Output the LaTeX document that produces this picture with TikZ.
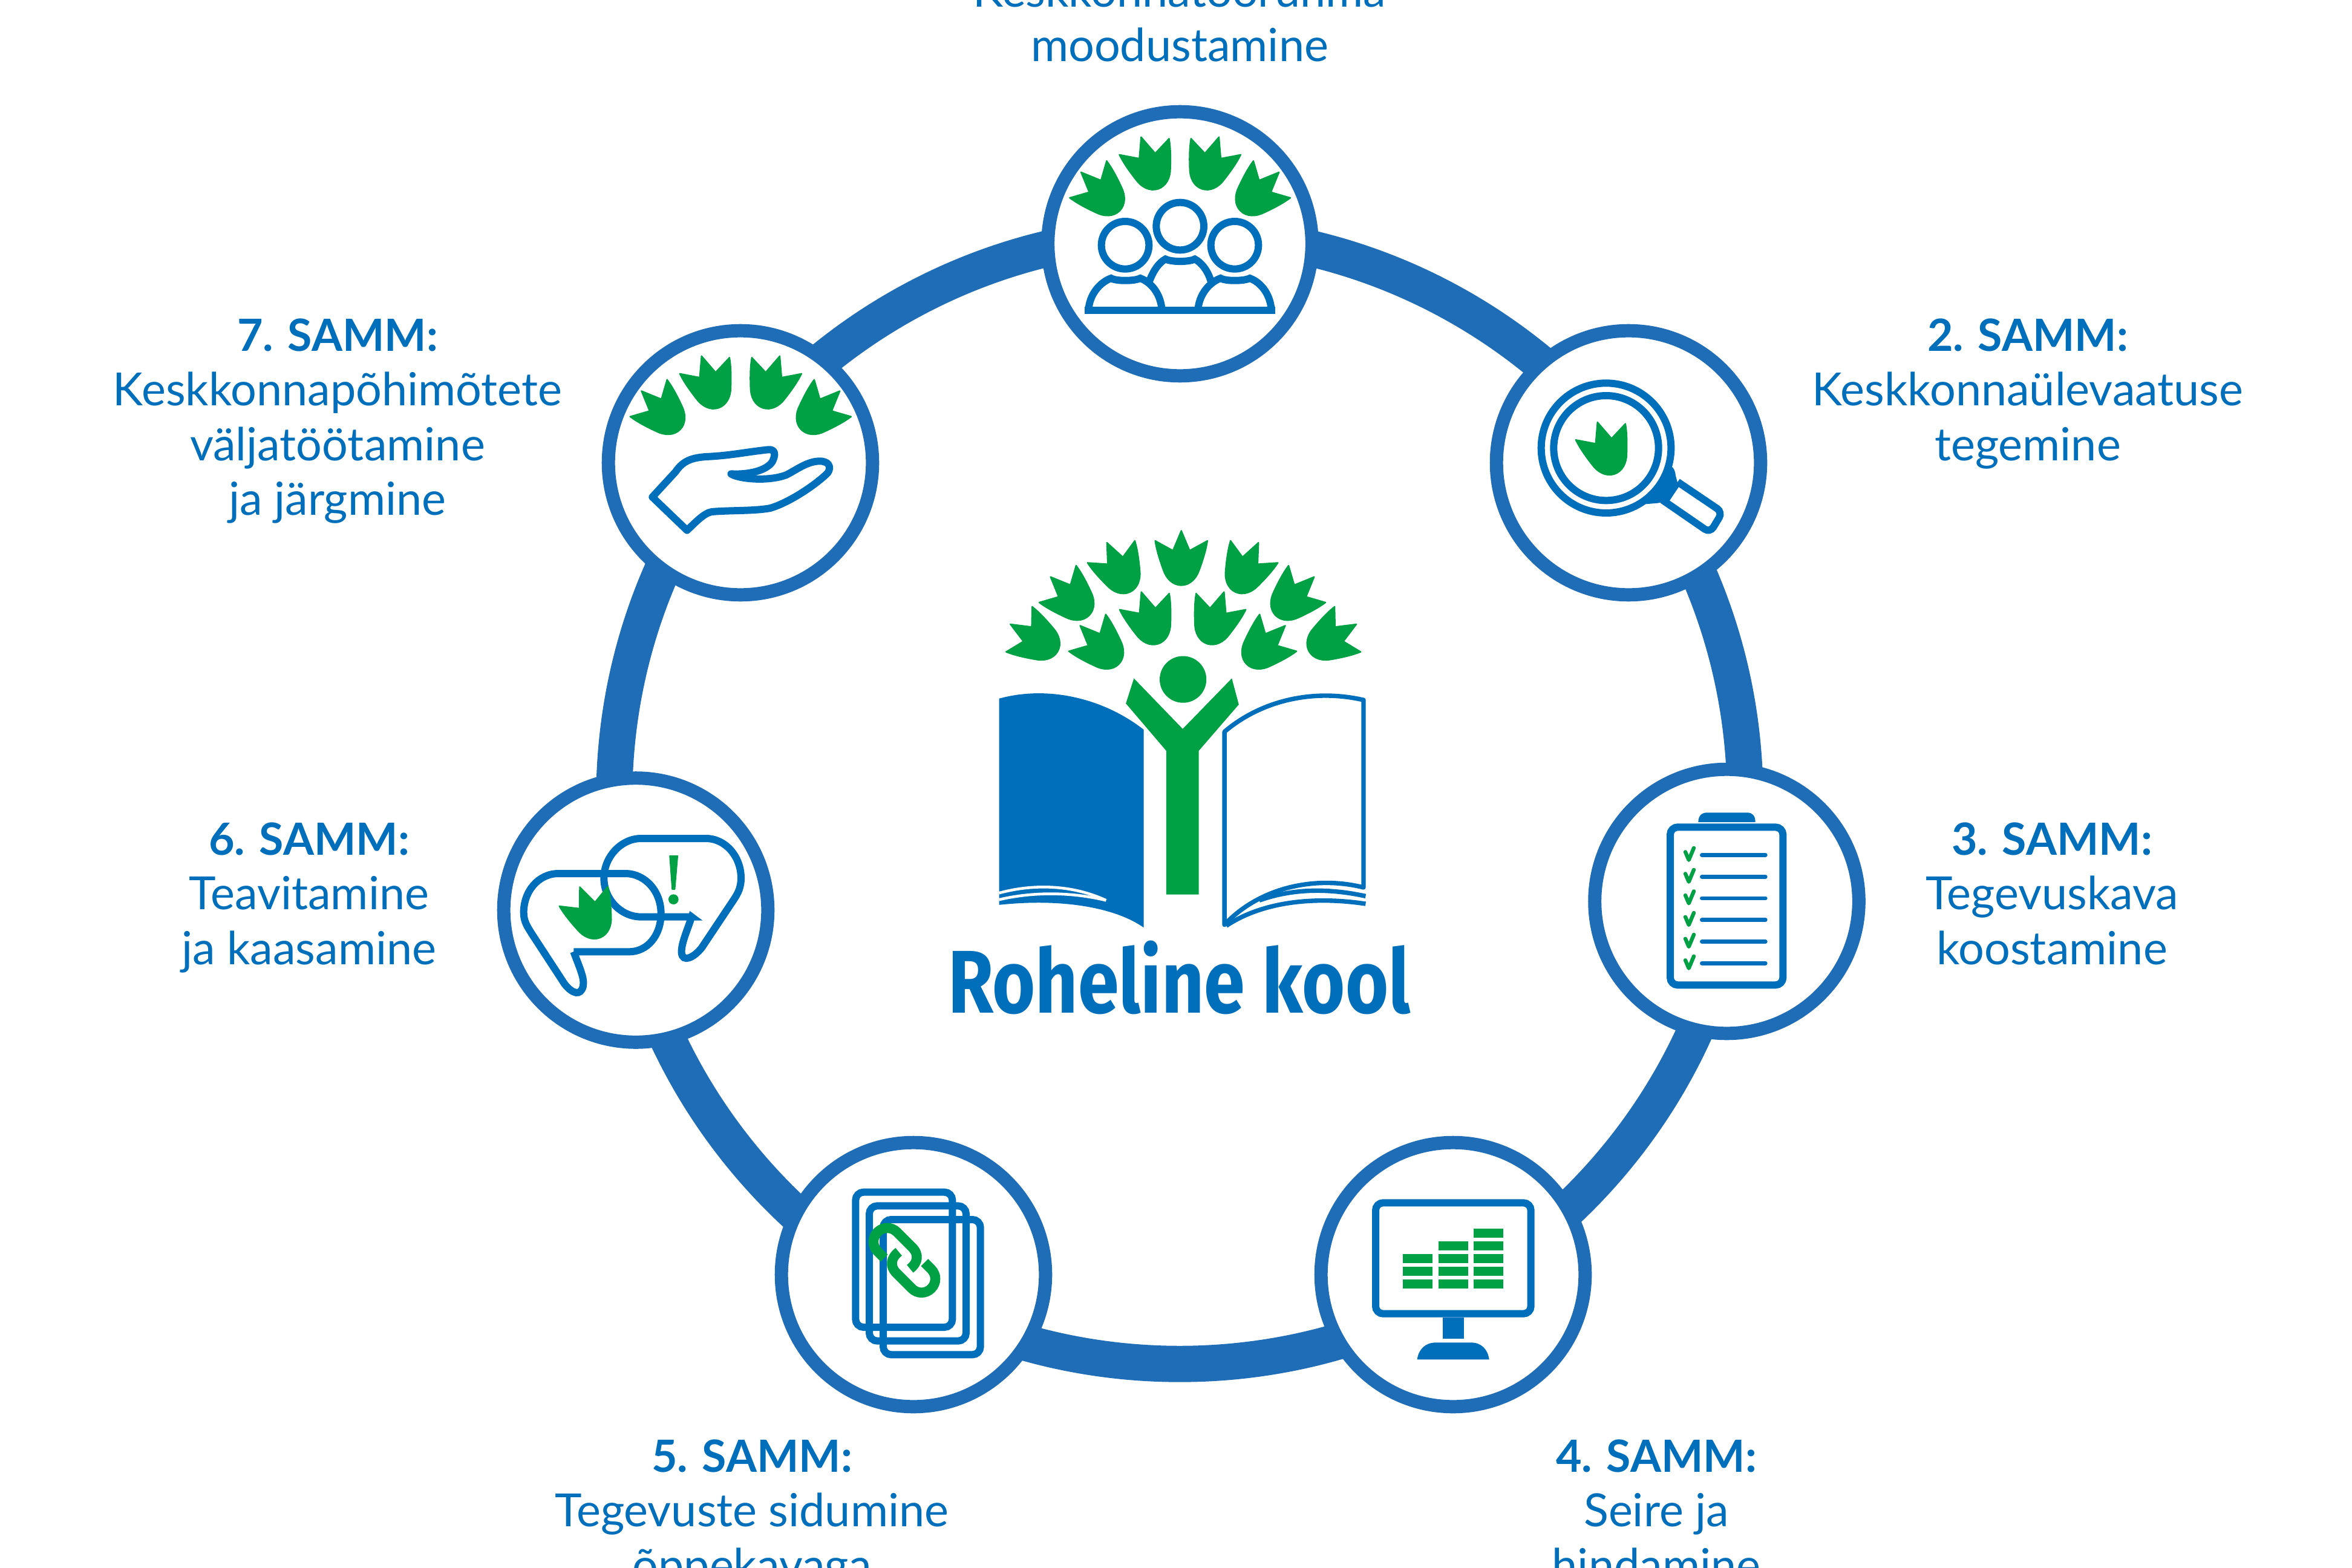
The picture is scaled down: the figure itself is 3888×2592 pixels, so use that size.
\documentclass[tikz,border=0pt]{standalone}
\usepackage{fontspec}
\usepackage{graphicx}
\setmainfont{Lato}
\newfontfamily\logofont{Fira Sans}
\definecolor{ringblue}{HTML}{1F6DB7}
\definecolor{iconblue}{HTML}{006FBB}
\definecolor{leafgreen}{HTML}{00A144}
\tikzset{
  stepcircle/.style={circle,draw=ringblue,fill=white,line width=12.5pt,minimum size=248.5pt,inner sep=0pt},
  steptext/.style={anchor=north,inner sep=0pt,align=center,text=iconblue,font=\fontsize{43pt}{51.4pt}\selectfont},
  iconline/.style={draw=iconblue,line width=6.83pt},
  leafshape/.style={fill=leafgreen,draw=leafgreen,line width=1.2pt,line join=round},
}
\newcommand{\leaf}[4]{\begin{scope}[shift={(#1,#2)},rotate=#3,scale=#4]
  \path[leafshape] (-75,-48) -- (-24,-20) -- (0,-77) -- (24,-20) -- (75,-48)
      .. controls (72,-25) and (63,5) .. (52,35)
      .. controls (44,60) and (25,80) .. (0,80)
      .. controls (-25,80) and (-44,60) .. (-52,35)
      .. controls (-63,5) and (-72,-25) .. cycle;
  \end{scope}}
\newcommand{\stephead}[1]{{\fontsize{41.8pt}{51.4pt}\selectfont\bfseries #1}}
\newcommand{\steplabel}[4]{\node[steptext] (#1) at (#2,#3) {\rule{0pt}{36pt}#4};}
\begin{document}
\begin{tikzpicture}[x=0.02cm,y=-0.02cm]
\useasboundingbox (0,0) rectangle (3888,2592);
\fill[white] (0,0) rectangle (3888,2592);
% ring
\node[circle,draw=ringblue,line width=34.1pt,minimum size=1064pt,inner sep=0pt] (ring) at (1950,1320) {};
% step circles
\node[stepcircle] (s1) at (1950.5,403) {};
\node[stepcircle] (s2) at (2692,765) {};
\node[stepcircle] (s3) at (2854.5,1490) {};
\node[stepcircle] (s4) at (2402,2107) {};
\node[stepcircle] (s5) at (1510,2107) {};
\node[stepcircle] (s6) at (1051,1504.5) {};
\node[stepcircle] (s7) at (1224,765) {};
% labels
\steplabel{t1}{1950}{-52}{Keskkonnatöörühma\\moodustamine}
\steplabel{t2}{3352}{517}{\stephead{2. SAMM:}\\Keskkonnaülevaatuse\\tegemine}
\steplabel{t3}{3392}{1350}{\stephead{3. SAMM:}\\Tegevuskava\\koostamine}
\steplabel{t4}{2738}{2370}{\stephead{4. SAMM:}\\Seire ja\\hindamine}
\steplabel{t5}{1243}{2370}{\stephead{5. SAMM:}\\Tegevuste sidumine\\õppekavaga}
\steplabel{t6}{511}{1350}{\stephead{6. SAMM:}\\Teavitamine\\ja kaasamine}
\steplabel{t7}{558}{517}{\stephead{7. SAMM:}\\Keskkonnapõhimõtete\\väljatöötamine\\ja järgmine}
% central logo
\begin{scope}[shift={(1500,819)},scale=0.576]
  \leaf{786}{178}{0}{1}
  \leaf{605}{205}{25}{1}
  \leaf{465}{288}{45}{1}
  \leaf{362}{408}{60}{1}
  \leaf{550}{428}{45}{1}
  \leaf{695}{350}{18}{1}
  \leaf{885}{350}{-18}{1}
  \leaf{1030}{428}{-45}{1}
  \leaf{975}{205}{-25}{1}
  \leaf{1113}{288}{-45}{1}
  \leaf{1222}{408}{-60}{1}
  \fill[leafgreen] (791,528) circle[radius=67];
  \fill[leafgreen] (650,525) -- (790,670) -- (931,525) -- (951,600) -- (836,733) -- (836,1145) -- (743,1145) -- (743,733) -- (627,597) -- cycle;
  \fill[iconblue] (263,583) .. controls (400,545) and (560,580) .. (678,672) -- (678,1240)
     .. controls (600,1185) and (450,1155) .. (263,1175) -- cycle;
  \draw[white,line width=2.6pt] (263,1141) .. controls (370,1112) and (480,1120) .. (570,1162);
  \draw[white,line width=2.6pt] (263,1160) .. controls (370,1135) and (480,1140) .. (570,1162);
  \draw[iconblue,line width=4.2pt,line join=round] (910,678) .. controls (1020,585) and (1170,555) .. (1309,587)
     -- (1309,1125) .. controls (1170,1090) and (1010,1125) .. (910,1232) -- cycle;
  \draw[iconblue,line width=4.2pt] (915,1235) .. controls (1020,1165) and (1170,1150) .. (1315,1172);
  \draw[iconblue,line width=4.2pt] (1010,1162) .. controls (1100,1130) and (1200,1125) .. (1315,1150);
  \node[inner sep=0pt,text=iconblue] (logotext) at (780,1384) {\resizebox{435pt}{68pt}{\logofont\bfseries Roheline kool}};
\end{scope}
% icon 1: people
\begin{scope}[shift={(1680,150)},scale=1/3]
  \leaf{415}{498}{45}{1.73}
  \leaf{660}{356}{18}{1.73}
  \leaf{964}{356}{-18}{1.73}
  \leaf{1209}{498}{-45}{1.73}
  \draw[iconline] (812,672) circle[radius=118];
  \draw[iconline] (540,766) circle[radius=118];
  \draw[iconline] (1083,766) circle[radius=118];
  \draw[iconline] (358,1090) .. controls (362,1010) and (415,950) .. (470,930) .. controls (495,945) and (585,945) .. (615,930) .. controls (670,950) and (718,1010) .. (722,1090);
  \draw[iconline] (901,1090) .. controls (905,1010) and (958,950) .. (1013,930) .. controls (1038,945) and (1128,945) .. (1158,930) .. controls (1213,950) and (1261,1010) .. (1265,1090);
  \draw[iconline] (660,945) .. controls (680,890) and (710,850) .. (740,835) .. controls (770,850) and (855,850) .. (885,835) .. controls (915,850) and (950,890) .. (965,945);
  \draw[iconline] (340,1090) -- (1285,1090);
\end{scope}
% icon 2: magnifier
\begin{scope}[shift={(2440,510)},scale=1/3]
  \draw[iconline] (645,692) circle[radius=322];
  \draw[iconline] (645,692) circle[radius=260];
  \leaf{643}{690}{18}{1.73}
  \fill[iconblue] (935,795) .. controls (960,770) and (985,780) .. (990,830) -- (1005,885) -- (958,955) -- (900,965) -- (840,970) -- (835,930) .. controls (890,950) and (945,880) .. cycle;
  \draw[iconline,rounded corners=6pt] (1000,860) -- (1222,1010) -- (1160,1112) -- (925,950);
\end{scope}
% icon 3: checklist
\begin{scope}[shift={(2610,1250)},scale=1/3]
  \fill[iconblue] (592,327) .. controls (592,295) and (610,280) .. (635,280) -- (835,280) .. controls (860,280) and (875,295) .. (875,327) -- cycle;
  \draw[iconline,rounded corners=7pt] (453,352) rectangle (1012,1135);
  \foreach \yy in {490,598,705,812,920,1027} {
    \draw[iconblue,line width=3.8pt,line cap=round] (610,\yy) -- (925,\yy);
    \draw[leafgreen,line width=3.6pt,line cap=round,line join=round] (528,\yy-15) -- (545,\yy+25) -- (570,\yy-35);
  }
\end{scope}
% icon 4: monitor
\begin{scope}[shift={(2160,1860)},scale=1/3]
  \draw[iconline,rounded corners=7pt] (342,385) rectangle (1112,935);
  \fill[iconblue] (674,955) rectangle (780,1058);
  \fill[iconblue] (548,1162) .. controls (555,1110) and (590,1078) .. (640,1078) -- (815,1078) .. controls (865,1078) and (898,1110) .. (905,1162) -- cycle;
  \foreach \yy in {765,702,638} {
    \fill[leafgreen] (477,\yy) rectangle (625,\yy+46);
    \fill[leafgreen] (654,\yy) rectangle (802,\yy+46);
    \fill[leafgreen] (829,\yy) rectangle (976,\yy+46);
  }
  \fill[leafgreen] (654,576) rectangle (802,622);
  \fill[leafgreen] (829,576) rectangle (976,622);
  \fill[leafgreen] (829,513) rectangle (976,559);
\end{scope}
% icon 5: linked pages
\begin{scope}[shift={(1270,1860)},scale=1/3]
  \draw[iconline,rounded corners=7.5pt] (433,332) rectangle (913,1002);
  \draw[iconline,rounded corners=7.5pt] (501,400) rectangle (981,1070);
  \draw[iconline,rounded corners=7.5pt] (570,468) rectangle (1052,1138);
  \draw[leafgreen,line width=9.4pt] (575,659) -- (542,626) .. controls (515,599) and (515,557) .. (542,530) .. controls (569,503) and (611,503) .. (638,530) -- (718,610) .. controls (745,640) and (745,680) .. (703,712);
  \draw[leafgreen,line width=9.4pt,rotate around={180:(675,670)}] (575,659) -- (542,626) .. controls (515,599) and (515,557) .. (542,530) .. controls (569,503) and (611,503) .. (638,530) -- (718,610) .. controls (745,640) and (745,680) .. (703,712);
\end{scope}
% icon 6: speech bubbles
\begin{scope}[shift={(800,1260)},scale=1/3]
  \draw[iconline,miter limit=10] (445,940) -- (720,940) .. controls (810,940) and (878,860) .. (878,750) .. controls (878,640) and (800,552) .. (700,552) -- (370,552) .. controls (270,552) and (197,640) .. (197,745) .. controls (197,790) and (215,815) .. (240,855) -- (400,1100) .. controls (440,1150) and (480,1160) .. (492,1110) .. controls (500,1070) and (470,1010) .. cycle;
  \draw[iconline,miter limit=10] (1030,767) -- (780,767) .. controls (680,767) and (595,680) .. (595,575) .. controls (595,470) and (680,378) .. (780,378) -- (1100,378) .. controls (1200,378) and (1275,470) .. (1275,575) .. controls (1275,620) and (1260,650) .. (1240,680) -- (1080,920) .. controls (1040,970) and (985,995) .. (980,945) .. controls (977,900) and (1010,830) .. cycle;
  \leaf{525}{742}{22}{1.73}
  \fill[leafgreen,draw=leafgreen,line width=1.2pt,line join=round] (922,465) -- (960,465) -- (946,630) -- (934,630) -- cycle;
  \fill[leafgreen] (940,680) circle[radius=25];
\end{scope}
% icon 7: hand
\begin{scope}[shift={(980,510)},scale=1/3]
  \leaf{335}{503}{45}{1.73}
  \leaf{580}{362}{18}{1.73}
  \leaf{886}{362}{-18}{1.73}
  \leaf{1131}{503}{-45}{1.73}
  \draw[iconline,line join=round] (295,935) -- (410,810) .. controls (450,750) and (500,740) .. (560,735) .. controls (680,730) and (770,710) .. (870,700) .. controls (910,697) and (905,730) .. (890,760) .. controls (860,805) and (770,825) .. (685,820) .. controls (720,845) and (870,860) .. (960,825) .. controls (1010,800) and (1060,760) .. (1120,757) .. controls (1170,755) and (1185,785) .. (1165,815) .. controls (1110,870) and (980,960) .. (880,990) .. controls (800,1005) and (680,1000) .. (590,1008) .. controls (550,1015) and (510,1060) .. (467,1100) -- cycle;
\end{scope}
\end{tikzpicture}
\end{document}
